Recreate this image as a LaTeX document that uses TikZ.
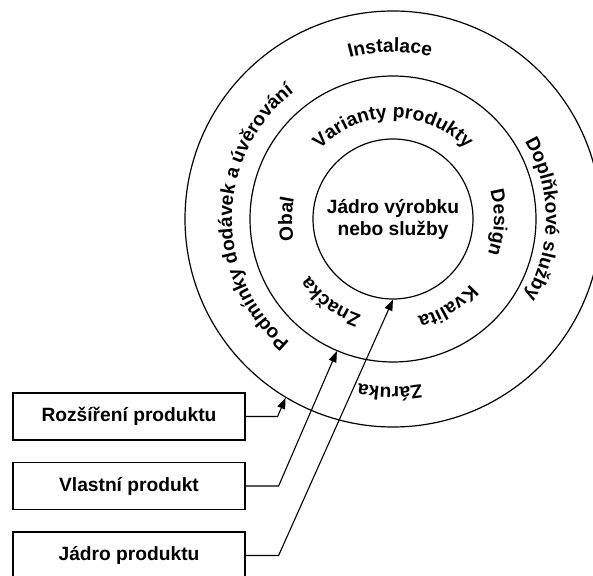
\documentclass[tikz,border=0pt]{standalone}
\usepackage{fontspec}
\setmainfont{Liberation Sans}
\usetikzlibrary{arrows.meta,decorations.text,calc}
\newcommand\ringfont{\fontsize{19.2}{22}\selectfont\bfseries}
\begin{document}
\begin{tikzpicture}[x=1pt,y=1pt,
  ring/.style={draw, circle, line width=1.2pt, inner sep=0pt},
  labelbox/.style={draw, line width=1.2pt, minimum width=232pt, minimum height=47pt,
    inner sep=0pt, font=\ringfont},
  link/.style={line width=1.1pt, -{Triangle[length=11pt,width=8pt]}},
  ringtext/.style={decorate, decoration={text along path, text align=center, text={#1}}}
]
\useasboundingbox (0,0) rectangle (593,575);
\coordinate (C) at (393,356);

% three concentric layers of the product
\node[ring, minimum size=416pt] (outer) at (C) {};
\node[ring, minimum size=286pt] (middle) at (C) {};
\node[ring, minimum size=160pt, align=center, font=\ringfont] (core) at (C)
  {Jádro výrobku\\nebo služby};

% labels of the middle ring (actual product)
\path[ringtext={|\ringfont|Varianty produkty}] ([shift={(150:101)}]C) arc[start angle=150, end angle=30, radius=101];
\path[ringtext={|\ringfont|Design}] ([shift={(28:101)}]C) arc[start angle=28, end angle=-32, radius=101];
\path[ringtext={|\ringfont|Kvalita}] ([shift={(-28:101)}]C) arc[start angle=-28, end angle=-88, radius=101];
\path[ringtext={|\ringfont|Značka}] ([shift={(263:101)}]C) arc[start angle=263, end angle=203, radius=101];
\path[ringtext={|\ringfont|Obal}] ([shift={(210:101)}]C) arc[start angle=210, end angle=150, radius=101];

% labels of the outer ring (augmented product)
\path[ringtext={|\ringfont|Instalace}] ([shift={(131:167)}]C) arc[start angle=131, end angle=51, radius=167];
\path[ringtext={|\ringfont|Doplňkové služby}] ([shift={(40:153)}]C) arc[start angle=40, end angle=-40, radius=153];
\path[ringtext={|\ringfont|Záruka}] ([shift={(-61:168)}]C) arc[start angle=-61, end angle=-121, radius=168];
\path[ringtext={|\ringfont|Podmínky dodávek a úvěrování}] ([shift={(250:161)}]C) arc[start angle=250, end angle=108, radius=161];

% legend boxes
\node[labelbox] (b1) at (129,158.5) {Rozšíření produktu};
\node[labelbox] (b2) at (129,89) {Vlastní produkt};
\node[labelbox] (b3) at (129,19.5) {Jádro produktu};

% connectors from the boxes to their layers
\coordinate (k1) at ($(b1.east)+(32,0)$);
\coordinate (k2) at ($(b2.east)+(33,0)$);
\coordinate (k3) at ($(b3.east)+(33,0)$);
\draw[link] (b1.east) -- (k1) -- (outer.239.6);
\draw[link] (b2.east) -- (k2) -- (middle.247.7);
\draw[link] (b3.east) -- (k3) -- (core.270);
\end{tikzpicture}
\end{document}
